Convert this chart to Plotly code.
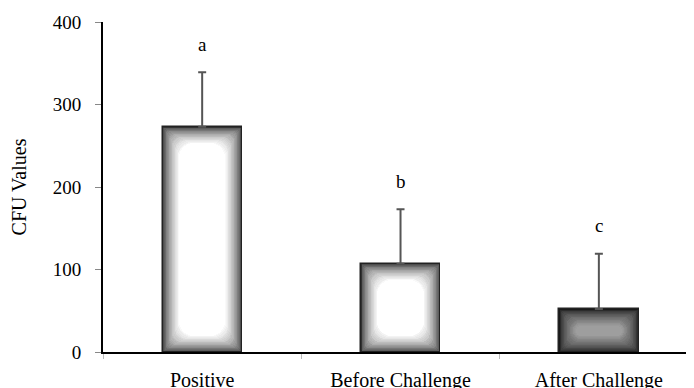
import plotly.graph_objects as go

categories = ["Positive", "Before Challenge", "After Challenge"]
cfu_values = [273, 107, 52]
cfu_errors = [66, 66, 67]
group_letters = ["a", "b", "c"]

# visual style for the shaded bars (edge colour -> centre colour per bar)
edge_rgb = [(50, 50, 50), (50, 50, 50), (25, 25, 25)]
center_rgb = [(255, 255, 255), (255, 255, 255), (158, 158, 158)]

W, H = 694, 388
OFF = 8  # page body margin of the browser
ML, MR, MT, MB = 103 - OFF, 0, 22 - OFF, 36 + OFF
XR = [-0.5, 2.52]
YR = [0, 400]
px_per_x = (W - ML - MR) / (XR[1] - XR[0])
px_per_y = (H - MT - MB) / (YR[1] - YR[0])
BAR_W = 0.40
N = 22
STEP = 0.75  # px per layer

fig = go.Figure()

def mix(a, b, t):
    return "rgb(%d,%d,%d)" % tuple(round(a[i] + (b[i] - a[i]) * t) for i in range(3))

# outer bar with outline and error bars
fig.add_trace(go.Bar(
    x=categories, y=cfu_values, width=[BAR_W] * 3,
    marker=dict(color=[mix(e, e, 0) for e in edge_rgb],
                line=dict(color="#222222", width=1.5)),
    error_y=dict(type="data", symmetric=False, array=cfu_errors,
                 arrayminus=[0] * 3, color="#555555", thickness=2, width=4),
    hoverinfo="skip", showlegend=False,
))

for k in range(1, N + 1):
    d = k * STEP
    dy = d / px_per_y
    dx = d / px_per_x
    t = (k / N) ** 0.65
    heights = [max(v - 2 * dy, 0) for v in cfu_values]
    fig.add_trace(go.Bar(
        x=categories, y=heights, base=[dy] * 3, width=[BAR_W - 2 * dx] * 3,
        marker=dict(color=[mix(edge_rgb[i], center_rgb[i], t) for i in range(3)],
                    line=dict(width=0), cornerradius=round(d * 0.9)),
        hoverinfo="skip", showlegend=False,
    ))

for i, c in enumerate(categories):
    fig.add_annotation(x=c, y=cfu_values[i] + cfu_errors[i], text=group_letters[i],
                       showarrow=False, yanchor="middle", yshift=28,
                       font=dict(family="Liberation Serif", size=19, color="black"))

fig.update_layout(
    width=W, height=H, barmode="overlay", bargap=0,
    margin=dict(l=ML, r=MR, t=MT, b=MB, pad=0),
    plot_bgcolor="white", paper_bgcolor="white",
    font=dict(family="Liberation Serif", size=19, color="black"),
    xaxis=dict(range=XR, showline=True, linecolor="black", linewidth=2,
               ticks="outside", ticklen=5, tickcolor="#bbbbbb", tickson="boundaries",
               ticklabelstandoff=9, showgrid=False, zeroline=False,
               tickfont=dict(size=20)),
    yaxis=dict(range=YR, showline=True, linecolor="black", linewidth=2,
               ticks="outside", ticklen=6, tickcolor="#888888", tickvals=[0, 100, 200, 300, 400],
               ticklabelstandoff=10, showgrid=False, zeroline=False,
               tickfont=dict(size=19),
               title=dict(text="CFU Values", standoff=22, font=dict(size=20))),
)

fig.write_html("out.html")
